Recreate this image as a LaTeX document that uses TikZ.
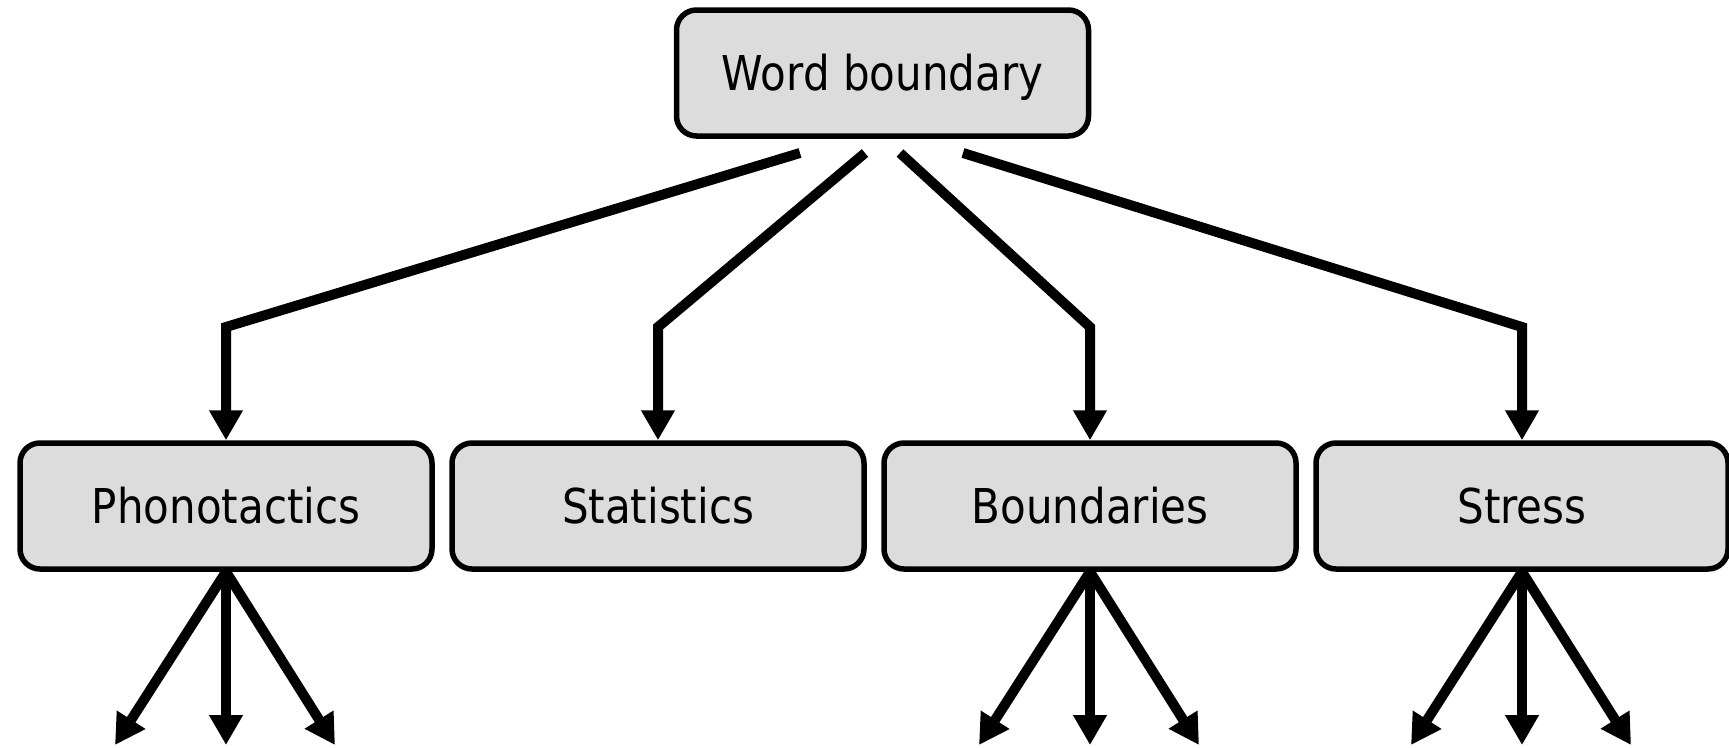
\documentclass[tikz,border=0pt]{standalone}
\usepackage{fontspec}
\setmainfont{DejaVu Sans}[FakeStretch=0.875]
\usetikzlibrary{arrows.meta}
\definecolor{boxgray}{HTML}{DCDCDC}
\begin{document}
\begin{tikzpicture}[x=1pt,y=-1pt,
  box/.style={draw=black, line width=5.5pt, fill=boxgray, rounded corners=20pt,
    minimum width=412pt, minimum height=126pt, inner sep=0pt,
    text height=35pt, text depth=0pt, font=\fontsize{48}{56}\selectfont},
  conn/.style={line width=10pt, line join=miter, -{Triangle[length=30pt,width=32pt]}}]
\useasboundingbox (0,0) rectangle (1729,747);
\node[box] (top) at (882.5,73) {Word boundary};
\node[box] (pho) at (226,506) {Phonotactics};
\node[box] (sta) at (658,506) {Statistics};
\node[box] (bou) at (1090,506) {Boundaries};
\node[box] (str) at (1522,506) {Stress};
% start and bend points
\coordinate (s1) at (800,153);
\coordinate (s2) at (865,153);
\coordinate (s3) at (900,153);
\coordinate (s4) at (963,153);
\coordinate (b1) at (226,327);
\coordinate (b2) at (658,327);
\coordinate (b3) at (1090,327);
\coordinate (b4) at (1522,327);
\draw[conn] (s1) -- (b1) -- (pho.north);
\draw[conn] (s2) -- (b2) -- (sta.north);
\draw[conn] (s3) -- (b3) -- (bou.north);
\draw[conn] (s4) -- (b4) -- (str.north);
% bottom free ends
\foreach \n/\x in {pho/226, bou/1090, str/1522}{
  \coordinate (\n L) at (\x-111,745);
  \coordinate (\n C) at (\x,745);
  \coordinate (\n R) at (\x+109,745);
  \draw[conn] (\n.south) -- (\n L);
  \draw[conn] (\n.south) -- (\n C);
  \draw[conn] (\n.south) -- (\n R);
}
\end{tikzpicture}
\end{document}
